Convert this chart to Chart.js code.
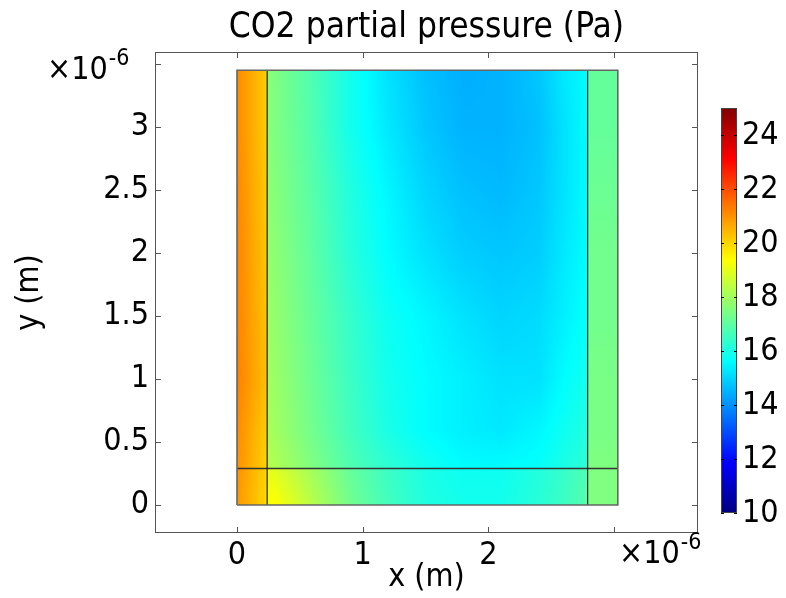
<!DOCTYPE html>
<html>
<head>
<meta charset="utf-8">
<script src="https://cdn.jsdelivr.net/npm/chart.js@4.4.1/dist/chart.umd.min.js"></script>
<style>
  body { margin: 0; background: #fff; }
  #wrap { width: 786px; height: 598px; }
</style>
</head>
<body>
<div id="wrap"><canvas id="chart" width="786" height="598"></canvas></div>
<script>
// sample positions of the field, in units of 1e-6 m (0.24 and 2.79 repeated: material jumps)
const xNodes = [0, 0.24, 0.24, 0.3, 0.6, 0.9, 1.2, 1.5, 1.8, 2.1, 2.4, 2.6, 2.79, 2.79, 3.03];
const yNodes = [0, 0.29, 0.29, 0.6, 1.0, 1.5, 2.0, 2.5, 3.0, 3.45];

// CO2 partial pressure (Pa), one row per yNodes entry, one column per xNodes entry
const pressure = [
  [20.9, 19.9, 19.3, 19.4, 18.3, 17.3, 16.6, 16.1, 15.9, 15.9, 16.2, 16.5, 16.9, 17.5, 17.5],
  [21.0, 20.0, 19.0, 18.9, 18.0, 17.1, 16.5, 16.0, 15.8, 15.8, 16.1, 16.4, 16.8, 17.5, 17.5],
  [21.0, 20.0, 18.3, 18.2, 17.5, 16.8, 16.3, 15.9, 15.6, 15.6, 15.7, 16.0, 16.3, 17.5, 17.5],
  [21.1, 20.1, 18.1, 18.0, 17.3, 16.6, 16.0, 15.6, 15.4, 15.3, 15.5, 15.8, 16.1, 17.4, 17.4],
  [21.25, 20.3, 18.0, 17.9, 17.2, 16.5, 15.9, 15.6, 15.4, 15.2, 15.2, 15.6, 15.9, 17.4, 17.4],
  [21.2, 20.25, 17.9, 17.8, 17.1, 16.4, 15.8, 15.5, 15.2, 15.0, 15.1, 15.4, 15.7, 17.3, 17.3],
  [21.2, 20.2, 17.8, 17.7, 17.0, 16.2, 15.6, 15.2, 14.9, 14.8, 14.9, 15.3, 15.6, 17.3, 17.3],
  [21.15, 20.15, 17.7, 17.6, 16.9, 16.1, 15.5, 15.0, 14.7, 14.6, 14.8, 15.2, 15.6, 17.2, 17.2],
  [21.1, 20.1, 17.6, 17.5, 16.8, 15.9, 15.3, 14.8, 14.5, 14.5, 14.7, 15.2, 15.6, 17.1, 17.1],
  [21.1, 20.1, 17.6, 17.5, 16.75, 15.9, 15.2, 14.7, 14.45, 14.5, 14.8, 15.3, 15.6, 17.1, 17.1]
];

// subdomain boundaries (1e-6 m)
const domainX = [0, 0.24, 2.79, 3.03];
const domainY = [0, 0.29, 3.45];

const xTicks = [0, 1, 2, 3];
const xTickLabels = ['0', '1', '2', ''];
const yTicks = [0, 0.5, 1, 1.5, 2, 2.5, 3, 3.5];
const yTickLabels = ['0', '0.5', '1', '1.5', '2', '2.5', '3', ''];
const colorTicks = [10, 12, 14, 16, 18, 20, 22, 24];
const colorMin = 10;
const colorMax = 25;

// the reference lettering is narrow and tall: use the condensed cut when it is installed
function hasFont(name) {
  const c = document.createElement('canvas').getContext('2d');
  const sample = 'CO2 partial pressure 0.5';
  c.font = '40px monospace';
  const a = c.measureText(sample).width;
  c.font = `40px '${name}', monospace`;
  return Math.abs(c.measureText(sample).width - a) > 0.5;
}
const condensed = hasFont('DejaVu Sans Condensed');
const FONT = condensed ? "'DejaVu Sans Condensed', 'DejaVu Sans', sans-serif" : "'DejaVu Sans', sans-serif";
const labelSize = condensed ? 32 : 28;
const titleSize = condensed ? 35 : 31;
const supSize = Math.round(labelSize * 0.72);
const labelLH = labelSize * 1.2;

Chart.defaults.font.family = FONT;
Chart.defaults.color = '#000';

// MATLAB style jet colormap
function jet(t) {
  const c = v => Math.round(255 * Math.max(0, Math.min(1, v)));
  return [c(1.5 - Math.abs(4 * t - 3)), c(1.5 - Math.abs(4 * t - 2)), c(1.5 - Math.abs(4 * t - 1))];
}

function locate(nodes, v) {
  if (v <= nodes[0]) return [0, 0];
  for (let i = 0; i < nodes.length - 1; i++) {
    if (nodes[i + 1] > nodes[i] && v <= nodes[i + 1]) {
      return [i, (v - nodes[i]) / (nodes[i + 1] - nodes[i])];
    }
  }
  return [nodes.length - 2, 1];
}

// surface plot, sampled per pixel through the axis scales
const heatmapPlugin = {
  id: 'heatmap',
  beforeDatasetsDraw(chart) {
    const { ctx, scales: { x, y } } = chart;
    const left = Math.round(x.getPixelForValue(xNodes[0]));
    const right = Math.round(x.getPixelForValue(xNodes[xNodes.length - 1]));
    const top = Math.round(y.getPixelForValue(yNodes[yNodes.length - 1]));
    const bottom = Math.round(y.getPixelForValue(yNodes[0]));
    const w = right - left, h = bottom - top;
    const img = ctx.createImageData(w, h);
    for (let j = 0; j < h; j++) {
      const [r, fy] = locate(yNodes, y.getValueForPixel(top + j + 0.5));
      for (let i = 0; i < w; i++) {
        const [c, fx] = locate(xNodes, x.getValueForPixel(left + i + 0.5));
        const lo = pressure[r][c] * (1 - fx) + pressure[r][c + 1] * fx;
        const hi = pressure[r + 1][c] * (1 - fx) + pressure[r + 1][c + 1] * fx;
        const v = lo * (1 - fy) + hi * fy;
        const rgb = jet((v - colorMin) / (colorMax - colorMin));
        const k = (j * w + i) * 4;
        img.data[k] = rgb[0];
        img.data[k + 1] = rgb[1];
        img.data[k + 2] = rgb[2];
        img.data[k + 3] = 255;
      }
    }
    ctx.putImageData(img, left, top);
  }
};

// axes box with inward ticks on all four sides
const frameTicksPlugin = {
  id: 'frameTicks',
  afterDatasetsDraw(chart) {
    const { ctx, chartArea: a, scales: { x, y } } = chart;
    const len = 6;
    ctx.save();
    ctx.strokeStyle = '#555';
    ctx.lineWidth = 1;
    ctx.strokeRect(a.left + 0.5, a.top + 0.5, a.right - a.left - 1, a.bottom - a.top - 1);
    ctx.beginPath();
    x.ticks.forEach(t => {
      const px = Math.round(x.getPixelForValue(t.value)) + 0.5;
      ctx.moveTo(px, a.bottom); ctx.lineTo(px, a.bottom - len);
      ctx.moveTo(px, a.top); ctx.lineTo(px, a.top + len);
    });
    y.ticks.forEach(t => {
      const py = Math.round(y.getPixelForValue(t.value)) + 0.5;
      ctx.moveTo(a.left, py); ctx.lineTo(a.left + len, py);
      ctx.moveTo(a.right, py); ctx.lineTo(a.right - len, py);
    });
    ctx.stroke();
    ctx.restore();
  }
};

// x10^-6 exponent labels
function drawExponent(ctx, x, baseline) {
  ctx.font = labelSize + 'px ' + FONT;
  ctx.textAlign = 'left';
  ctx.textBaseline = 'alphabetic';
  ctx.fillStyle = '#000';
  ctx.fillText('\u00d710', x, baseline);
  const w = ctx.measureText('\u00d710').width;
  ctx.font = supSize + 'px ' + FONT;
  ctx.fillText('-6', x + w + 1, baseline - Math.round(labelSize * 0.45));
}

const exponentPlugin = {
  id: 'exponent',
  afterDraw(chart) {
    const { ctx } = chart;
    ctx.save();
    drawExponent(ctx, 47, 79);
    drawExponent(ctx, 619, 563);
    ctx.restore();
  }
};

// colour legend
const colorbarPlugin = {
  id: 'colorbar',
  afterDraw(chart, args, opts) {
    const { ctx } = chart;
    const { left, width, top, bottom } = opts;
    const toPx = v => bottom - (v - colorMin) / (colorMax - colorMin) * (bottom - top);
    ctx.save();
    for (let py = top; py < bottom; py++) {
      const v = colorMin + (bottom - py - 0.5) / (bottom - top) * (colorMax - colorMin);
      const rgb = jet((v - colorMin) / (colorMax - colorMin));
      ctx.fillStyle = `rgb(${rgb[0]},${rgb[1]},${rgb[2]})`;
      ctx.fillRect(left, py, width, 1);
    }
    ctx.strokeStyle = '#444';
    ctx.lineWidth = 1;
    ctx.strokeRect(left + 0.5, top + 0.5, width - 1, bottom - top - 1);
    ctx.strokeStyle = '#000';
    ctx.beginPath();
    colorTicks.forEach(t => {
      const py = Math.round(toPx(t)) + 0.5;
      ctx.moveTo(left, py); ctx.lineTo(left + 3, py);
      ctx.moveTo(left + width, py); ctx.lineTo(left + width - 3, py);
    });
    ctx.stroke();
    ctx.font = labelSize + 'px ' + FONT;
    ctx.fillStyle = '#000';
    ctx.textAlign = 'left';
    ctx.textBaseline = 'middle';
    colorTicks.forEach(t => ctx.fillText(String(t), left + width + 5, toPx(t) + 1));
    ctx.restore();
  }
};

function segment(points, color, width) {
  return {
    data: points,
    showLine: true,
    pointRadius: 0,
    borderColor: color,
    borderWidth: width,
    fill: false
  };
}

const datasets = [
  segment([
    { x: domainX[0], y: domainY[0] },
    { x: domainX[3], y: domainY[0] },
    { x: domainX[3], y: domainY[2] },
    { x: domainX[0], y: domainY[2] },
    { x: domainX[0], y: domainY[0] }
  ], '#666', 1.6),
  segment([{ x: domainX[1], y: domainY[0] }, { x: domainX[1], y: domainY[2] }], '#222', 1.2),
  segment([{ x: domainX[2], y: domainY[0] }, { x: domainX[2], y: domainY[2] }], '#222', 1.2),
  segment([{ x: domainX[0], y: domainY[1] }, { x: domainX[3], y: domainY[1] }], '#333', 1.6)
];

new Chart(document.getElementById('chart'), {
  type: 'scatter',
  data: { datasets },
  options: {
    responsive: false,
    animation: false,
    events: [],
    layout: { padding: { left: 0, right: 88, top: 0, bottom: 0 } },
    plugins: {
      legend: { display: false },
      tooltip: { enabled: false },
      title: {
        display: true,
        fullSize: false,
        text: 'CO2 partial pressure (Pa)',
        color: '#000',
        font: { size: titleSize, weight: 'normal' },
        padding: { top: 28 - titleSize * 0.6, bottom: 52 - 28 - titleSize * 0.6 }
      },
      colorbar: { left: 721, width: 16, top: 108, bottom: 513 }
    },
    scales: {
      x: {
        type: 'linear',
        min: -0.6525,
        max: 3.668,
        grid: { display: false, drawTicks: false },
        border: { display: false },
        afterBuildTicks: s => { s.ticks = xTicks.map(v => ({ value: v })); },
        afterFit: s => { s.height = 65; },
        ticks: {
          font: { size: labelSize },
          padding: 3,
          maxRotation: 0,
          callback: (v, i) => xTickLabels[i]
        },
        title: { display: true, text: 'x (m)', font: { size: labelSize }, padding: { top: 0, bottom: 20 - labelLH / 2 } }
      },
      y: {
        type: 'linear',
        min: -0.222,
        max: 3.595,
        grid: { display: false, drawTicks: false },
        border: { display: false },
        afterBuildTicks: s => { s.ticks = yTicks.map(v => ({ value: v })); },
        afterFit: s => { s.width = 155; },
        ticks: {
          font: { size: labelSize },
          padding: 6,
          callback: (v, i) => yTickLabels[i]
        },
        title: { display: true, text: 'y (m)', font: { size: labelSize }, padding: { top: 30 - labelLH / 2, bottom: 0 } }
      }
    }
  },
  plugins: [heatmapPlugin, frameTicksPlugin, exponentPlugin, colorbarPlugin]
});
</script>
</body>
</html>
